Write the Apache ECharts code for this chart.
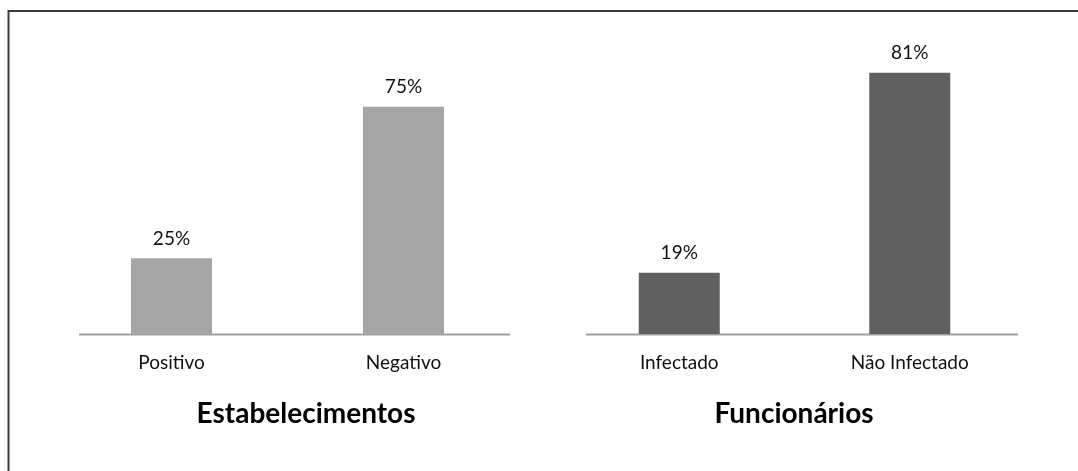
<!DOCTYPE html>
<html>
<head>
<meta charset="utf-8">
<script src="https://cdn.jsdelivr.net/npm/echarts@6/dist/echarts.min.js"></script>
<style>
html,body{margin:0;padding:0;background:#fff;}
#c{width:1078px;height:471px;}
</style>
</head>
<body>
<div id="c"></div>
<script>
var estCategories = ['Positivo', 'Negativo'];
var estValues = [25, 75];
var funCategories = ['Infectado', 'Não Infectado'];
var funValues = [19, 81];
var titles = ['Estabelecimentos', 'Funcionários'];

var FONT = 'Lato';
var chart = echarts.init(document.getElementById('c'));

function catAxis(idx, cats) {
  return {
    type: 'category', gridIndex: idx, data: cats,
    axisLine: {show: false}, axisTick: {show: false},
    axisLabel: {fontFamily: FONT, fontSize: 19, color: '#111', margin: 19}
  };
}
function valAxis(idx) {
  return {type: 'value', gridIndex: idx, min: 0, max: 100, show: false, splitLine: {show: false}};
}
function barSeries(idx, vals, color) {
  return {
    type: 'bar', xAxisIndex: idx, yAxisIndex: idx, data: vals, barWidth: 81,
    itemStyle: {color: color},
    label: {show: true, position: 'top', distance: 10, formatter: '{c}%',
            fontFamily: FONT, fontSize: 19, color: '#111'}
  };
}

chart.setOption({
  animation: false,
  title: [
    {text: titles[0], left: 306, top: 400, textAlign: 'center', padding: 0,
     textStyle: {fontFamily: FONT, fontWeight: 'bold', fontSize: 28, color: '#000'}},
    {text: titles[1], left: 794, top: 400, textAlign: 'center', padding: 0,
     textStyle: {fontFamily: FONT, fontWeight: 'bold', fontSize: 28, color: '#000'}}
  ],
  grid: [
    {left: 55.5, width: 464, top: 31, height: 303},
    {left: 564, width: 461, top: 11.4, height: 322.6}
  ],
  xAxis: [catAxis(0, estCategories), catAxis(1, funCategories)],
  yAxis: [valAxis(0), valAxis(1)],
  series: [barSeries(0, estValues, '#A5A5A5'), barSeries(1, funValues, '#606060')],
  graphic: [
    {type: 'rect', shape: {x: 8.5, y: 11, width: 1200, height: 600},
     style: {fill: 'none', stroke: '#3a3a3a', lineWidth: 2}, silent: true},
    {type: 'line', shape: {x1: 79, y1: 334.5, x2: 510, y2: 334.5},
     style: {stroke: '#A0A0A0', lineWidth: 2}, silent: true},
    {type: 'line', shape: {x1: 586, y1: 334.5, x2: 1018, y2: 334.5},
     style: {stroke: '#A0A0A0', lineWidth: 2}, silent: true}
  ]
});
</script>
</body>
</html>
